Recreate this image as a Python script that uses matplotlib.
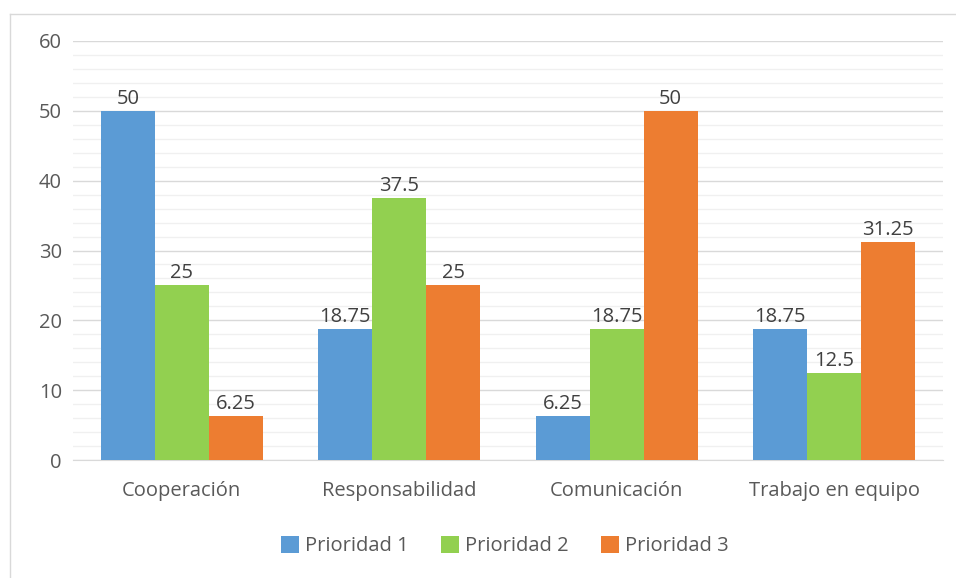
import numpy as np
import matplotlib.pyplot as plt
from matplotlib.lines import Line2D

# data
categories = ['Cooperación', 'Responsabilidad', 'Comunicación', 'Trabajo en equipo']
series_names = ['Prioridad 1', 'Prioridad 2', 'Prioridad 3']
prioridad1 = [50, 18.75, 6.25, 18.75]
prioridad2 = [25, 37.5, 18.75, 12.5]
prioridad3 = [6.25, 25, 50, 31.25]
colors = ['#5B9BD5', '#92D050', '#ED7D31']

plt.rcParams['font.family'] = ['Open Sans', 'DejaVu Sans']
txt = '#595959'
fs = 14.5

fig = plt.figure(figsize=(9.56, 5.78), dpi=100)
ax = fig.add_axes([73/956, 1 - 460/578, 870/956, 419/578])

x = np.arange(len(categories))
w = 0.248
for i, (vals, name) in enumerate(zip([prioridad1, prioridad2, prioridad3], series_names)):
    bars = ax.bar(x + (i - 1) * w, vals, w, color=colors[i], label=name, zorder=3)
    labels = [('%g' % v) for v in vals]
    ax.bar_label(bars, labels=labels, padding=1.5, fontsize=fs, color='#404040')

ax.set_xlim(-0.5, 3.5)
ax.set_ylim(0, 60)
ax.set_yticks(np.arange(0, 61, 10))
ax.set_yticks(np.arange(0, 61, 2), minor=True)
ax.grid(axis='y', which='major', color='#d9d9d9', linewidth=1, zorder=0)
ax.grid(axis='y', which='minor', color='#f0f0f0', linewidth=1, zorder=0)
ax.set_xticks(x)
ax.set_xticklabels(categories)
ax.tick_params(axis='both', which='both', length=0, labelsize=fs, colors=txt)
ax.tick_params(axis='y', pad=8)
ax.tick_params(axis='x', pad=15)
for s in ['top', 'right', 'left']:
    ax.spines[s].set_visible(False)
ax.spines['bottom'].set_color('#d9d9d9')

leg = fig.legend(loc='center', bbox_to_anchor=(505/956, 1 - 546/578), ncol=3,
                 frameon=False, fontsize=fs, handlelength=0.9, handleheight=0.9,
                 columnspacing=1.6, handletextpad=0.3)
for t in leg.get_texts():
    t.set_color(txt)

# light frame round the chart
fig.add_artist(Line2D([10/956, 1], [1 - 14/578, 1 - 14/578], color='#d9d9d9', lw=1))
fig.add_artist(Line2D([10/956, 10/956], [0, 1 - 14/578], color='#d9d9d9', lw=1))

fig.savefig('out.png', dpi=100)
